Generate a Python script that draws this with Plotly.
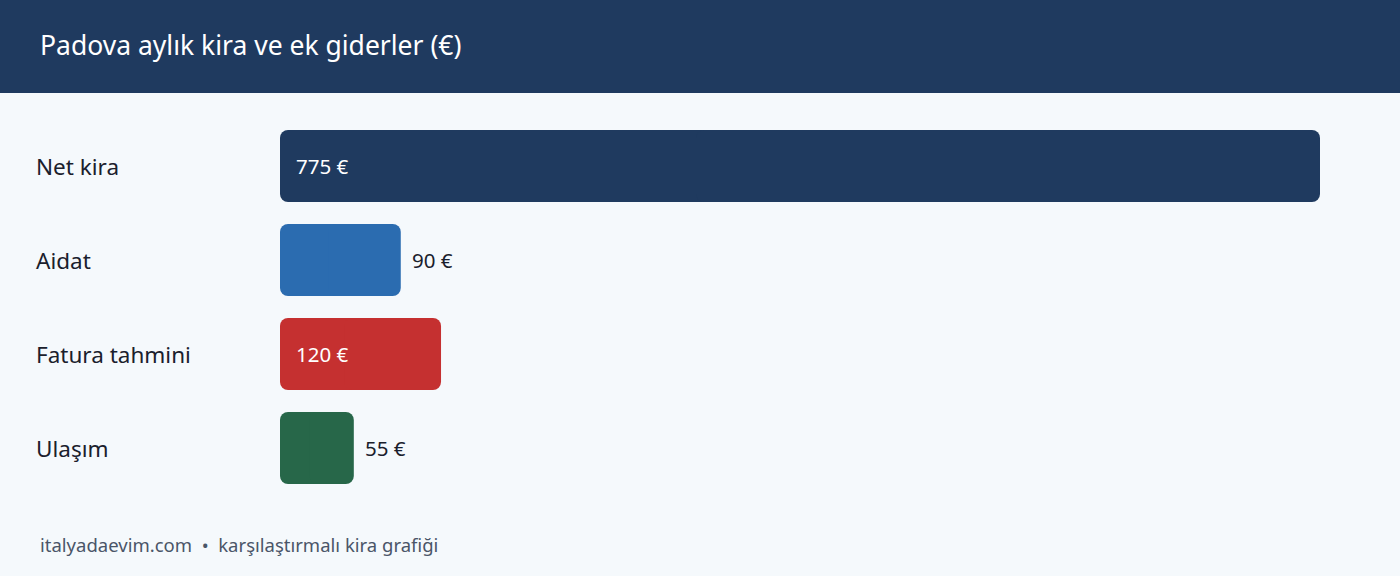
import plotly.graph_objects as go

# data
categories = ['Net kira', 'Aidat', 'Fatura tahmini', 'Ulaşım']
values = [775, 90, 120, 55]
colors = ['#1f3a5f', '#2b6cb0', '#c53030', '#276749']
title = 'Padova aylık kira ve ek giderler (€)'
footer = 'italyadaevim.com  •  karşılaştırmalı kira grafiği'

W, H = 1400, 576
ML, MR, MT, MB = 280, 80, 119, 81
PW, PH = W - ML - MR, H - MT - MB
FONT = 'Noto Sans, Open Sans, sans-serif'

fig = go.Figure()
# each bar is drawn as two overlapping halves so both ends get rounded corners
left_x = [-v * 0.6 for v in values]
left_base = [v * 0.6 for v in values]
right_x = [v * 0.6 for v in values]
right_base = [v * 0.4 for v in values]
for xs, bases in [(left_x, left_base), (right_x, right_base)]:
    fig.add_trace(go.Bar(
        x=xs,
        base=bases,
        y=categories,
        orientation='h',
        marker=dict(color=colors, line=dict(width=0), cornerradius=8),
        hoverinfo='skip',
    ))

annotations = []
for cat, val in zip(categories, values):
    # category label on the left
    annotations.append(dict(
        x=(34 - ML) / PW, xref='paper', y=cat, yref='y',
        text=cat, showarrow=False, xanchor='left',
        font=dict(family=FONT, size=22.5, color='#1a202c'),
    ))
    # value label, inside for big bars
    if val >= 100:
        annotations.append(dict(
            x=0, y=cat, text=f'{val} €', showarrow=False, xanchor='left',
            xshift=14, font=dict(family=FONT, size=20.5, color='#ffffff'),
        ))
    else:
        annotations.append(dict(
            x=val, y=cat, text=f'{val} €', showarrow=False, xanchor='left',
            xshift=9, font=dict(family=FONT, size=20.5, color='#1a202c'),
        ))

# header title and footer
annotations.append(dict(
    x=(38 - ML) / PW, xref='paper', y=1 + (MT - 45) / PH, yref='paper',
    text=title, showarrow=False, xanchor='left', yanchor='middle',
    font=dict(family=FONT, size=26.5, color='#ffffff'),
))
annotations.append(dict(
    x=(38 - ML) / PW, xref='paper', y=-(544 - MT - PH) / PH, yref='paper',
    text=footer, showarrow=False, xanchor='left', yanchor='middle',
    font=dict(family=FONT, size=18.5, color='#4a5568'),
))

fig.update_layout(
    width=W, height=H,
    margin=dict(l=ML, r=MR, t=MT, b=MB),
    paper_bgcolor='#f5f9fc',
    plot_bgcolor='#f5f9fc',
    showlegend=False,
    barmode='overlay',
    bargap=22 / 94,
    xaxis=dict(range=[0, max(values)], visible=False, fixedrange=True),
    yaxis=dict(categoryorder='array', categoryarray=categories[::-1],
               visible=False, fixedrange=True),
    annotations=annotations,
    shapes=[dict(
        type='rect', xref='paper', yref='paper',
        x0=-ML / PW, x1=1 + MR / PW,
        y0=1 + (MT - 93) / PH, y1=1 + MT / PH,
        fillcolor='#1f3a5f', line=dict(width=0), layer='below',
    )],
)

fig.write_html('out.html', config={'displayModeBar': False},
               post_script="document.body.style.margin='0';")
